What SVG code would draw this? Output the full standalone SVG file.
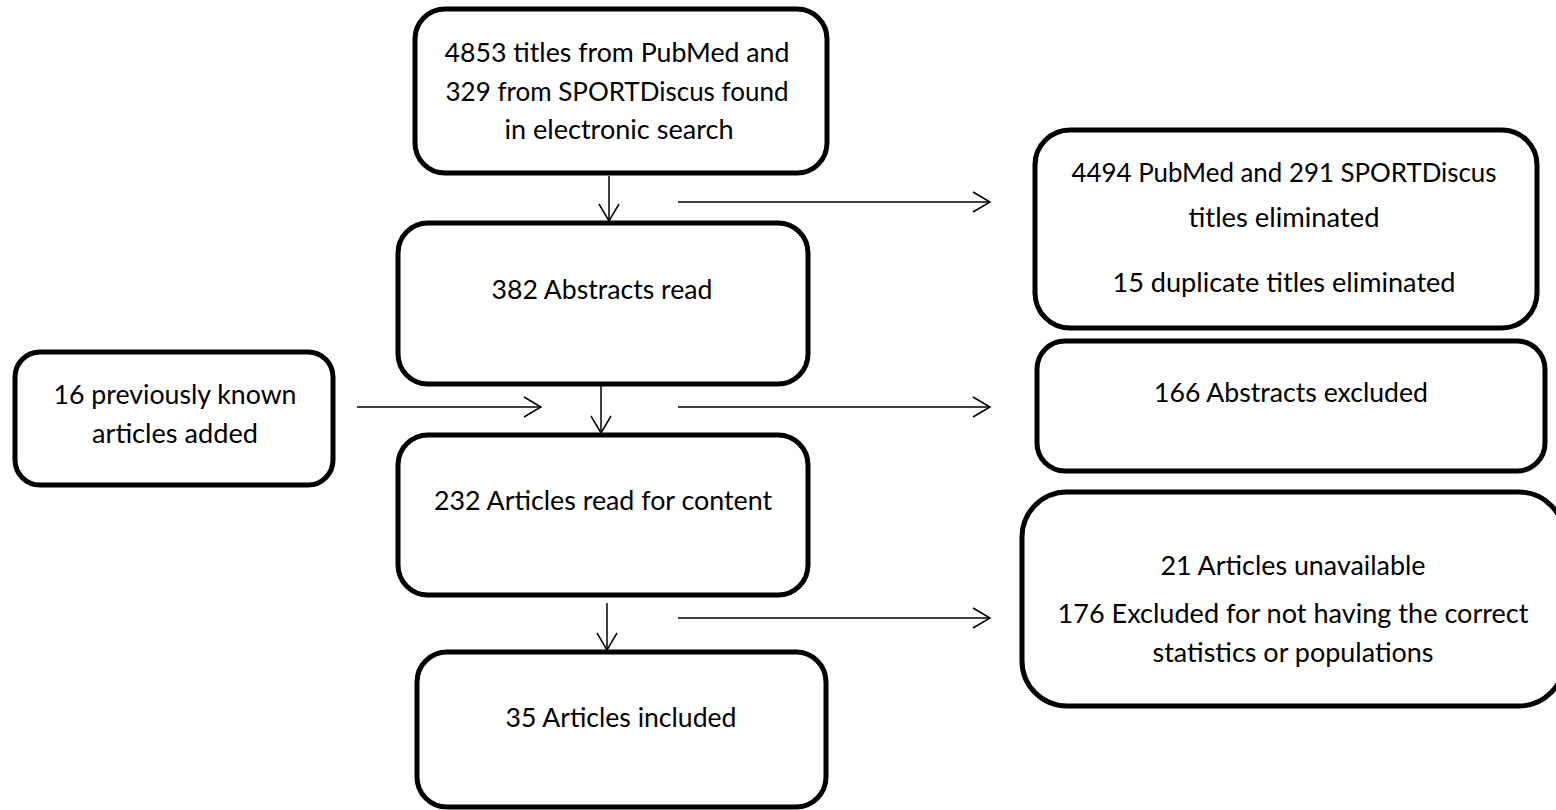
<svg xmlns="http://www.w3.org/2000/svg" width="1556" height="810" viewBox="0 0 1556 810">
<style>
.box{fill:#fff;stroke:#000;stroke-width:5}
.t{font-family:Lato,'Liberation Sans',sans-serif;font-size:26.5px;fill:#000;text-anchor:middle}
.c{stroke:#000;stroke-width:1.5;fill:none;marker-end:url(#ah)}
</style>
<defs>
<marker id="ah" markerUnits="userSpaceOnUse" viewBox="-20 -12 22 24" refX="0" refY="0" markerWidth="22" markerHeight="24" orient="auto" overflow="visible">
<path d="M-17,-10 L0,0 L-17,10" fill="none" stroke="#000" stroke-width="1.5"/>
</marker>
</defs>
<rect x="0" y="0" width="1556" height="810" fill="#fff"/>
<g id="connectors">
<line class="c" x1="609" y1="176" x2="609" y2="221"/>
<line class="c" x1="678" y1="202" x2="990" y2="202"/>
<line class="c" x1="357" y1="407" x2="541" y2="407"/>
<line class="c" x1="601" y1="384" x2="601" y2="433"/>
<line class="c" x1="678" y1="407" x2="990" y2="407"/>
<line class="c" x1="607" y1="603" x2="607" y2="650"/>
<line class="c" x1="678" y1="618" x2="990" y2="618"/>
</g>
<g id="n1">
<rect class="box" x="415" y="9" width="412" height="164" rx="30"/>
<text class="t" x="617" y="62" textLength="345" lengthAdjust="spacingAndGlyphs">4853 titles from PubMed and</text>
<text class="t" x="617" y="101" textLength="343" lengthAdjust="spacingAndGlyphs">329 from SPORTDiscus found</text>
<text class="t" x="619" y="139" textLength="229" lengthAdjust="spacingAndGlyphs">in electronic search</text>
</g>
<g id="n2">
<rect class="box" x="398" y="223" width="410" height="161" rx="30"/>
<text class="t" x="602" y="299" textLength="221" lengthAdjust="spacingAndGlyphs">382 Abstracts read</text>
</g>
<g id="n3">
<rect class="box" x="15" y="352" width="318" height="133" rx="25"/>
<text class="t" x="175" y="404" textLength="243" lengthAdjust="spacingAndGlyphs">16 previously known</text>
<text class="t" x="175" y="443" textLength="166" lengthAdjust="spacingAndGlyphs">articles added</text>
</g>
<g id="n4">
<rect class="box" x="398" y="435" width="410" height="160" rx="30"/>
<text class="t" x="603" y="510" textLength="338" lengthAdjust="spacingAndGlyphs">232 Articles read for content</text>
</g>
<g id="n5">
<rect class="box" x="417" y="652" width="409" height="155" rx="30"/>
<text class="t" x="621" y="727" textLength="231" lengthAdjust="spacingAndGlyphs">35 Articles included</text>
</g>
<g id="n6">
<rect class="box" x="1035" y="130" width="502" height="198" rx="35"/>
<text class="t" x="1284" y="182" textLength="425" lengthAdjust="spacingAndGlyphs">4494 PubMed and 291 SPORTDiscus</text>
<text class="t" x="1284" y="227" textLength="191" lengthAdjust="spacingAndGlyphs">titles eliminated</text>
<text class="t" x="1284" y="292" textLength="343" lengthAdjust="spacingAndGlyphs">15 duplicate titles eliminated</text>
</g>
<g id="n7">
<rect class="box" x="1037" y="341" width="508" height="130" rx="28"/>
<text class="t" x="1291" y="402" textLength="274" lengthAdjust="spacingAndGlyphs">166 Abstracts excluded</text>
</g>
<g id="n8">
<rect class="box" x="1022" y="492" width="542" height="214" rx="45"/>
<text class="t" x="1293" y="575" textLength="265" lengthAdjust="spacingAndGlyphs">21 Articles unavailable</text>
<text class="t" x="1293" y="623" textLength="471" lengthAdjust="spacingAndGlyphs">176 Excluded for not having the correct</text>
<text class="t" x="1293" y="662" textLength="281" lengthAdjust="spacingAndGlyphs">statistics or populations</text>
</g>
</svg>
